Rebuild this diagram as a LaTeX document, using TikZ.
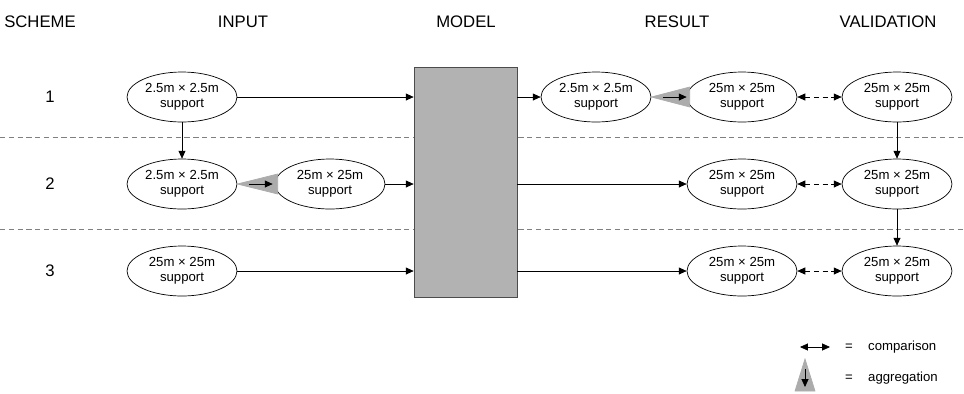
\documentclass[tikz,border=0pt]{standalone}
\usepackage{fontspec}
\setmainfont{Liberation Sans}
\usetikzlibrary{calc,positioning,shapes.geometric,arrows.meta}

\begin{document}
\begin{tikzpicture}[
    x=0.02cm, y=-0.02cm,
    align=center,
    head/.style={font=\fontsize{9.5}{11}\selectfont},
    supp/.style={ellipse, draw=black, fill=white, minimum width=2.2cm,
      minimum height=1cm, inner sep=0pt, font=\fontsize{7.5}{8.5}\selectfont},
    flow/.style={-{Triangle[length=4.5pt,width=4pt]}, black},
    cmp/.style={{Triangle[length=4.5pt,width=4pt]}-{Triangle[length=4.5pt,width=4pt]},
      densely dashed, black},
    agg/.style={fill=gray!65, draw=gray!65},
    sep/.style={gray, densely dashed}
  ]
  \useasboundingbox (0,0) rectangle (964,393);

  % column headers and scheme numbers

  \node (hscheme) [head] at (40,22)   {SCHEME};
  \node (hinput)  [head] at (243,22)  {INPUT};
  \node (hmodel)  [head] at (466,22)  {MODEL};
  \node (hresult) [head] at (677,22)  {RESULT};
  \node (hvalid)  [head] at (888,22)  {VALIDATION};

  \node (n1) [head] at (50,97)  {1};
  \node (n2) [head] at (50,184) {2};
  \node (n3) [head] at (50,271) {3};

  % row separators

  \coordinate (s1l) at (0,137);   \coordinate (s1r) at (964,137);
  \coordinate (s2l) at (0,229);   \coordinate (s2r) at (964,229);
  \draw[sep] (s1l) -- (s1r);
  \draw[sep] (s2l) -- (s2r);

  % the model

  \node (model) [rectangle, draw=black!70, fill=gray!60, minimum width=2.06cm,
                 minimum height=4.6cm] at (465.5,182) {};

  % supports

  \node (in1)  [supp] at (182,97)  {2.5m × 2.5m\\support};
  \node (in2a) [supp] at (182,184) {2.5m × 2.5m\\support};
  \node (in2b) [supp] at (330,184) {25m × 25m\\support};
  \node (in3)  [supp] at (182,271) {25m × 25m\\support};

  \node (res1a) [supp] at (596,97)  {2.5m × 2.5m\\support};
  \node (res1b) [supp] at (742,97)  {25m × 25m\\support};
  \node (res2)  [supp] at (742,184) {25m × 25m\\support};
  \node (res3)  [supp] at (742,271) {25m × 25m\\support};

  \node (val1) [supp] at (897,97)  {25m × 25m\\support};
  \node (val2) [supp] at (897,184) {25m × 25m\\support};
  \node (val3) [supp] at (897,271) {25m × 25m\\support};

  % aggregation wedges

  \fill[agg] (in2a.east) -- ($(in2b.west)+(3,-10)$) -- ($(in2b.west)+(3,10)$) -- cycle;
  \draw[flow] ($(in2a.east)+(12,0)$) -- ($(in2b.west)+(-2,0)$);

  \fill[agg] (res1a.east) -- ($(res1b.west)+(3,-10)$) -- ($(res1b.west)+(3,10)$) -- cycle;
  \draw[flow] ($(res1a.east)+(12,0)$) -- (res1b.west);

  % flows

  \draw[flow] (in1)  -- (in2a);
  \draw[flow] (in1.east)  -- (in1.east -| model.west);
  \draw[flow] (in2b.east) -- (in2b.east -| model.west);
  \draw[flow] (in3.east)  -- (in3.east -| model.west);

  \draw[flow] (res1a.west -| model.east) -- (res1a.west);
  \draw[flow] (res2.west -| model.east)  -- (res2.west);
  \draw[flow] (res3.west -| model.east)  -- (res3.west);

  \draw[flow] (val1) -- (val2);
  \draw[flow] (val2) -- (val3);

  % comparisons

  \draw[cmp] (res1b) -- (val1);
  \draw[cmp] (res2)  -- (val2);
  \draw[cmp] (res3)  -- (val3);

  % legend

  \coordinate (lc1) at (800,347);
  \coordinate (lc2) at (830,347);
  \draw[cmp, solid] (lc1) -- (lc2);
  \node (leq1)  [font=\fontsize{7.5}{8.5}\selectfont] at (849,347) {=};
  \node (lcomp) [font=\fontsize{7.5}{8.5}\selectfont, anchor=west] at (862,347) {comparison};

  \coordinate (la) at (805,359);
  \fill[agg] (la) -- (795,391) -- (815,391) -- cycle;
  \coordinate (la1) at (805,369);
  \coordinate (la2) at (805,387);
  \draw[flow] (la1) -- (la2);
  \node (leq2) [font=\fontsize{7.5}{8.5}\selectfont] at (849,378) {=};
  \node (lagg) [font=\fontsize{7.5}{8.5}\selectfont, anchor=west] at (862,378) {aggregation};

\end{tikzpicture}
\end{document}
